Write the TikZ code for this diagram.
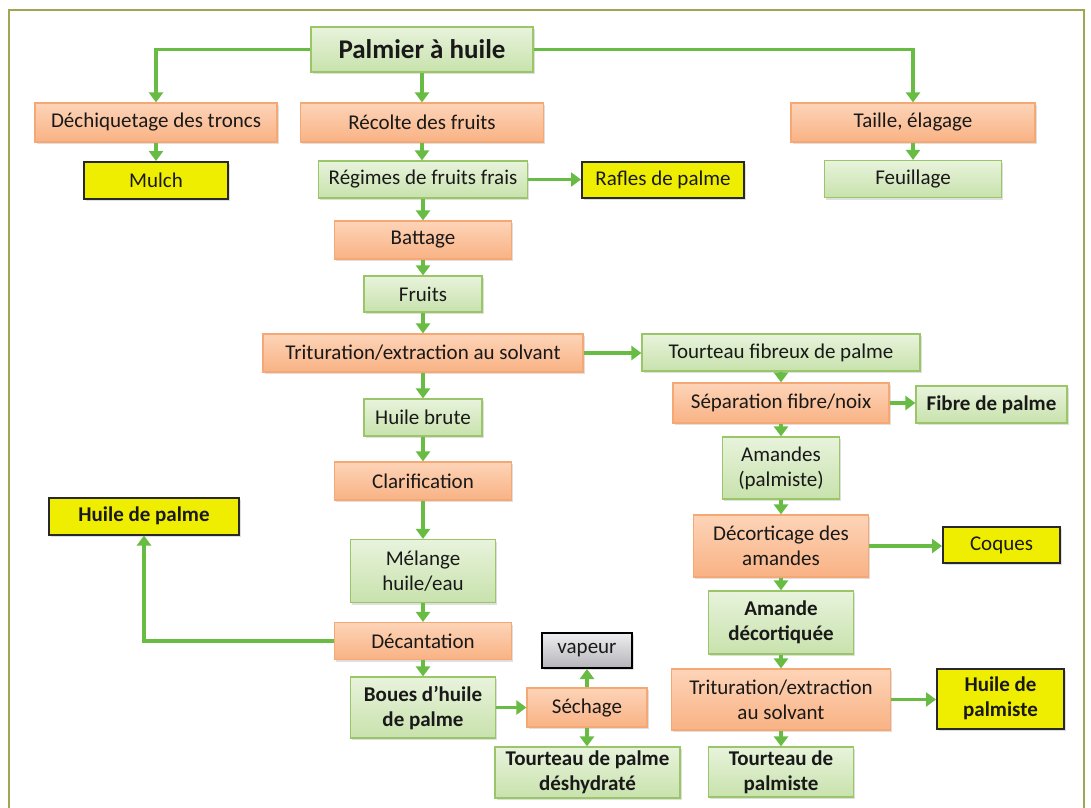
\documentclass[tikz,border=0pt]{standalone}
\usepackage{fontspec}
\setmainfont{Carlito}
\usetikzlibrary{arrows.meta,shadows,calc}
\definecolor{gTop}{RGB}{232,243,220}
\definecolor{gBot}{RGB}{200,226,172}
\definecolor{gDraw}{RGB}{155,198,104}
\definecolor{oTop}{RGB}{253,212,184}
\definecolor{oBot}{RGB}{249,178,132}
\definecolor{oDraw}{RGB}{246,168,116}
\definecolor{yFill}{RGB}{240,238,0}
\definecolor{yDraw}{RGB}{40,40,40}
\definecolor{vTop}{RGB}{238,238,240}
\definecolor{vBot}{RGB}{180,180,186}
\definecolor{arrowGreen}{RGB}{104,188,68}
\definecolor{frameCol}{RGB}{160,166,82}
\definecolor{txt}{RGB}{25,25,25}
\tikzset{
  base/.style={rectangle, inner sep=0pt, align=center, text=txt,
    font=\fontsize{21}{25}\selectfont,
    drop shadow={shadow xshift=1.5pt, shadow yshift=-2pt, opacity=0.25}},
  gbox/.style={base, draw=gDraw, line width=1.2pt, top color=gTop, bottom color=gBot},
  obox/.style={base, draw=oDraw, line width=1.2pt, top color=oTop, bottom color=oBot},
  ybox/.style={base, draw=yDraw, line width=2pt, fill=yFill},
  vbox/.style={base, draw=black, line width=2pt, top color=vTop, bottom color=vBot},
  bf/.style={font=\fontsize{21}{25}\selectfont\bfseries},
  sz/.style n args={2}{minimum width=#1pt, minimum height=#2pt},
  arr/.style={draw=arrowGreen, line width=3.6pt, -{Triangle[width=14pt,length=10pt]}},
}
\begin{document}
\begin{tikzpicture}[x=1pt,y=-1pt]
\useasboundingbox (0,0) rectangle (1091,807);
\fill[white] (0,0) rectangle (1091,807);
\draw[frameCol, line width=2pt] (9,812) -- (9,10) -- (1084,10) -- (1084,812);

% nodes
\node[gbox, sz={222}{45}, font=\fontsize{27}{30}\selectfont\bfseries] (palm) at (422,49.5) {Palmier à huile};
\node[obox, sz={242}{39}] (dech) at (156,122.5) {Déchiquetage des troncs};
\node[obox, sz={243}{39}] (recolte) at (422,122.5) {Récolte des fruits};
\node[obox, sz={244}{39}] (taille) at (913,122.5) {Taille, élagage};
\node[ybox, sz={144}{37}] (mulch) at (156,180.5) {Mulch};
\node[gbox, sz={209}{37}] (regimes) at (423,179.5) {Régimes de fruits frais};
\node[ybox, sz={162}{36}] (rafles) at (663,180) {Rafles de palme};
\node[gbox, sz={177}{37}] (feuil) at (913,179) {Feuillage};
\node[obox, sz={177}{38}] (battage) at (423,240) {Battage};
\node[gbox, sz={118}{36}] (fruits) at (423,294) {Fruits};
\node[obox, sz={320}{38}] (trit) at (423,353) {Trituration/extraction au solvant};
\node[gbox, sz={278}{37}] (tfib) at (781,352.5) {Tourteau fibreux de palme};
\node[obox, sz={216}{40}] (sep) at (781,403) {Séparation fibre/noix};
\node[gbox, sz={151}{37}, bf] (fibre) at (991.5,404.5) {Fibre de palme};
\node[gbox, sz={118}{37}] (hbrute) at (423,417.5) {Huile brute};
\node[gbox, sz={117}{62}] (amandes) at (781,468) {Amandes\\(palmiste)};
\node[obox, sz={177}{38}] (clar) at (423,481) {Clarification};
\node[ybox, sz={190}{37}, bf] (hpalme) at (144,516) {Huile de palme};
\node[obox, sz={175}{62}] (decort) at (781,546) {Décorticage des\\amandes};
\node[ybox, sz={117}{36}] (coques) at (1001.5,545) {Coques};
\node[gbox, sz={145}{63}] (melange) at (423,571) {Mélange\\huile/eau};
\node[gbox, sz={145}{63}, bf] (amdec) at (781,622.5) {Amande\\décortiquée};
\node[obox, sz={177}{37}] (decant) at (423,641) {Décantation};
\node[vbox, sz={90}{35}] (vapeur) at (587,650.5) {vapeur};
\node[obox, sz={219}{61}] (trit2) at (781,699.5) {Trituration/extraction\\au solvant};
\node[ybox, sz={127}{60}, bf] (hpalmiste) at (1000.5,698.5) {Huile de\\palmiste};
\node[gbox, sz={145}{61}, bf] (boues) at (423,707.5) {Boues d’huile\\de palme};
\node[obox, sz={120}{39}] (sechage) at (587,707.5) {Séchage};
\node[gbox, sz={185}{51}, bf] (tdesh) at (587.5,772.5) {Tourteau de palme\\déshydraté};
\node[gbox, sz={145}{50}, bf] (tpalmiste) at (781,772) {Tourteau de\\palmiste};

% connectors
\draw[arr] (palm.west) -| (dech.north);
\draw[arr] (palm.east) -| (taille.north);
\draw[arr] (palm.south) -- (palm.south |- recolte.north);
\draw[arr] (dech.south) -- (dech.south |- mulch.north);
\draw[arr] (recolte.south) -- (recolte.south |- regimes.north);
\draw[arr] (taille.south) -- (taille.south |- feuil.north);
\draw[arr] (regimes.east) -- (regimes.east -| rafles.west);
\draw[arr] (regimes.south) -- (regimes.south |- battage.north);
\draw[arr] (battage.south) -- (battage.south |- fruits.north);
\draw[arr] (fruits.south) -- (fruits.south |- trit.north);
\draw[arr] (trit.east) -- (trit.east -| tfib.west);
\draw[arr] (trit.south) -- (trit.south |- hbrute.north);
\draw[arr] (tfib.south) -- (tfib.south |- sep.north);
\draw[arr] (sep.east) -- (sep.east -| fibre.west);
\draw[arr] (sep.south) -- (sep.south |- amandes.north);
\draw[arr] (amandes.south) -- (amandes.south |- decort.north);
\draw[arr] (decort.east) -- (decort.east -| coques.west);
\draw[arr] (decort.south) -- (decort.south |- amdec.north);
\draw[arr] (amdec.south) -- (amdec.south |- trit2.north);
\draw[arr] (trit2.east) -- (trit2.east -| hpalmiste.west);
\draw[arr] (trit2.south) -- (trit2.south |- tpalmiste.north);
\draw[arr] (hbrute.south) -- (hbrute.south |- clar.north);
\draw[arr] (clar.south) -- (clar.south |- melange.north);
\draw[arr] (melange.south) -- (melange.south |- decant.north);
\draw[arr] (decant.west) -| (hpalme.south);
\draw[arr] (decant.south) -- (decant.south |- boues.north);
\draw[arr] (boues.east) -- (boues.east -| sechage.west);
\draw[arr] (sechage.north) -- (sechage.north |- vapeur.south);
\draw[arr] (sechage.south) -- (sechage.south |- tdesh.north);
\end{tikzpicture}
\end{document}
